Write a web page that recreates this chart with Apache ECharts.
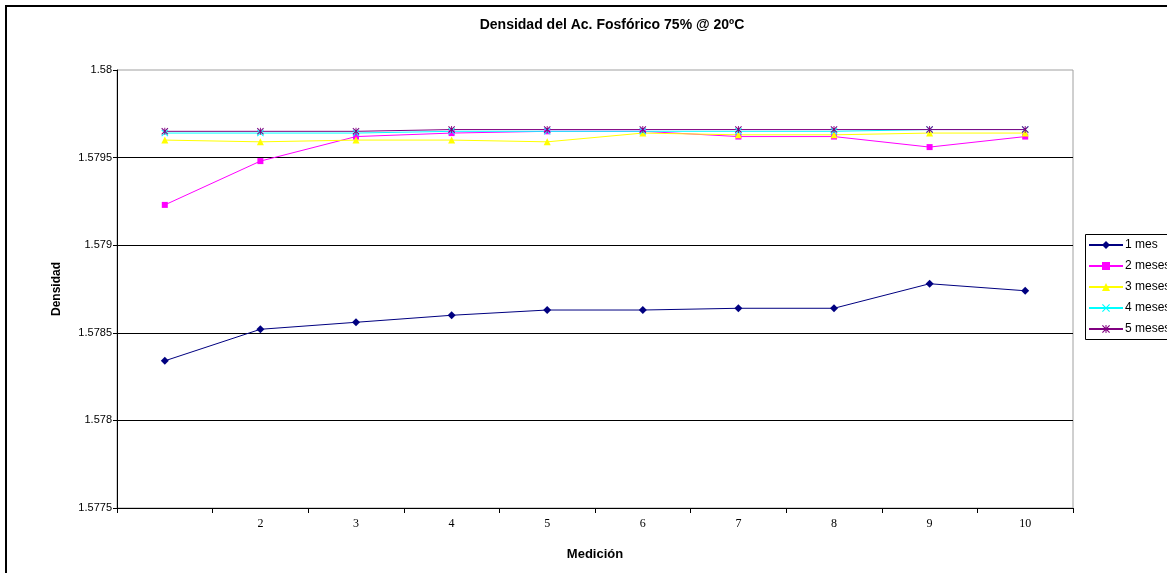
<!DOCTYPE html>
<html>
<head>
<meta charset="utf-8">
<title>Densidad del Ac. Fosfórico 75% @ 20ºC</title>
<script src="https://cdn.jsdelivr.net/npm/echarts@6/dist/echarts.min.js"></script>
<style>
  html, body { margin: 0; padding: 0; background: #fff; }
  #chart { width: 1167px; height: 573px; }
</style>
</head>
<body>
<div id="chart"></div>
<script>
// Measurement numbers (x categories)
const mediciones = ['1', '2', '3', '4', '5', '6', '7', '8', '9', '10'];

// Density readings per storage time
const mes1   = [1.57834, 1.57852, 1.57856, 1.57860, 1.57863, 1.57863, 1.57864, 1.57864, 1.57878, 1.57874];
const meses2 = [1.57923, 1.57948, 1.57962, 1.57964, 1.57965, 1.57965, 1.57962, 1.57962, 1.57956, 1.57962];
const meses3 = [1.57960, 1.57959, 1.57960, 1.57960, 1.57959, 1.57964, 1.57963, 1.57963, 1.57964, 1.57964];
const meses4 = [1.57964, 1.57964, 1.57964, 1.57965, 1.57965, 1.57965, 1.57965, 1.57965, 1.57966, 1.57966];
const meses5 = [1.57965, 1.57965, 1.57965, 1.57966, 1.57966, 1.57966, 1.57966, 1.57966, 1.57966, 1.57966];

// Y axis range
const yMin = 1.5775;
const yMax = 1.58;
const yStep = 0.0005;

const SANS = 'Liberation Sans, Arial, sans-serif';
const SERIF = 'Liberation Serif, Times New Roman, serif';

// Marker shapes: a cross and an asterisk
const crossPath = 'path://M0,1L1,0L5,4L9,0L10,1L6,5L10,9L9,10L5,6L1,10L0,9L4,5Z';
const starPath = 'path://M0,1L1,0L5,4L9,0L10,1L6,5L10,9L9,10L5,6L1,10L0,9L4,5Z M4.35,0H5.65V10H4.35Z';

function lineSeries(name, data, color, symbol, size) {
  return {
    name: name,
    type: 'line',
    data: data,
    symbol: symbol,
    symbolSize: size,
    showAllSymbol: true,
    lineStyle: { color: color, width: 1 },
    itemStyle: { color: color, borderWidth: 0 },
    emphasis: { disabled: true },
    animation: false
  };
}

const chart = echarts.init(document.getElementById('chart'), null, { renderer: 'canvas' });

chart.setOption({
  backgroundColor: '#fff',
  animation: false,
  title: {
    text: 'Densidad del Ac. Fosfórico 75% @ 20ºC',
    left: 607,
    textAlign: 'center',
    top: 13,
    textStyle: { fontFamily: SANS, fontSize: 14, fontWeight: 'bold', color: '#000' }
  },
  graphic: [
    {
      // chart frame, running past the right and bottom edges
      type: 'rect',
      shape: { x: 6, y: 6, width: 1300, height: 700 },
      style: { fill: 'none', stroke: '#000', lineWidth: 2 },
      silent: true,
      z: 100
    },
    {
      // legend box, running past the right edge
      type: 'rect',
      shape: { x: 1085.5, y: 234.5, width: 200, height: 105 },
      style: { fill: 'none', stroke: '#000', lineWidth: 1 },
      silent: true,
      z: 100
    }
  ],
  legend: {
    orient: 'vertical',
    left: 1086,
    top: 234,
    itemWidth: 34,
    itemHeight: 10,
    itemGap: 7,
    padding: [4, 60, 4, 2],
    borderWidth: 0,
    textStyle: { fontFamily: SANS, fontSize: 12, color: '#000', lineHeight: 14, padding: [0, 0, 0, -3] },
    data: ['1 mes', '2 meses', '3 meses', '4 meses', '5 meses']
  },
  grid: {
    left: 117,
    top: 70,
    right: 94,
    bottom: 65,
    show: true,
    borderColor: '#a0a0a0',
    borderWidth: 1,
    containLabel: false
  },
  xAxis: {
    type: 'category',
    data: mediciones,
    boundaryGap: true,
    name: 'Medición',
    nameLocation: 'middle',
    nameGap: 40,
    nameTextStyle: { fontFamily: SANS, fontSize: 13, fontWeight: 'bold', color: '#000' },
    axisLine: { lineStyle: { color: '#000', width: 1 } },
    axisTick: { show: true, length: 5, inside: false, alignWithLabel: false, interval: 0, lineStyle: { color: '#000' } },
    axisLabel: {
      interval: function (i) { return i > 0; },
      margin: 10,
      fontFamily: SERIF,
      fontSize: 12,
      color: '#000'
    },
    splitLine: { show: false }
  },
  yAxis: {
    type: 'value',
    min: yMin,
    max: yMax,
    interval: yStep,
    name: 'Densidad',
    nameLocation: 'middle',
    nameGap: 54,
    nameRotate: 90,
    nameTextStyle: { fontFamily: SANS, fontSize: 12, fontWeight: 'bold', color: '#000' },
    axisLine: { show: true, lineStyle: { color: '#000', width: 1 } },
    axisTick: { show: true, length: 4, inside: false, lineStyle: { color: '#000' } },
    axisLabel: {
      margin: 5,
      fontFamily: SANS,
      fontSize: 11,
      color: '#000',
      formatter: function (v) { return String(+v.toFixed(4)); }
    },
    splitLine: { show: true, showMinLine: false, showMaxLine: false, lineStyle: { color: '#000', width: 1 } }
  },
  series: [
    lineSeries('1 mes', mes1, '#000080', 'diamond', 8),
    lineSeries('2 meses', meses2, '#FF00FF', 'rect', 6),
    lineSeries('3 meses', meses3, '#FFFF00', 'triangle', 7),
    lineSeries('4 meses', meses4, '#00FFFF', crossPath, 7),
    lineSeries('5 meses', meses5, '#800080', starPath, 7)
  ]
});
</script>
</body>
</html>
